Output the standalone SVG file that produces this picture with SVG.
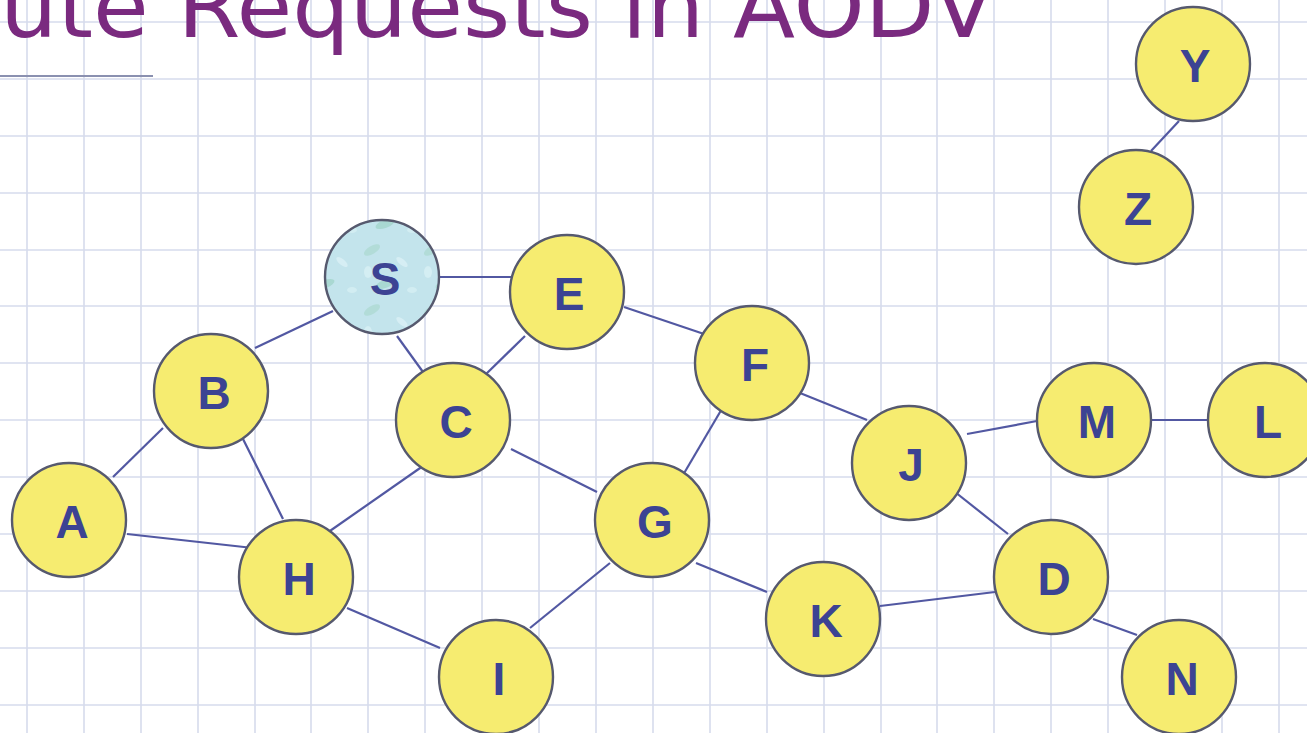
<svg xmlns="http://www.w3.org/2000/svg" width="1307" height="733" viewBox="0 0 1307 733">
<defs>
<style>
.grid line{stroke:#d6dbec;stroke-width:1.6}
.edge{stroke:#5258a2;stroke-width:2.2;fill:none}
.node circle{fill:#f6ec70;stroke:#56596e;stroke-width:2.4}
.node text{font-family:"Liberation Sans",Arial,sans-serif;font-weight:bold;font-size:46px;fill:#3c4393;text-anchor:middle;dominant-baseline:central}
.title{font-family:"DejaVu Sans",Verdana,sans-serif;font-size:88px;fill:#7a2a7f}
</style>
<pattern id="tex" patternUnits="userSpaceOnUse" width="60" height="60">
<rect width="60" height="60" fill="#c3e4ec"/>
<ellipse cx="12" cy="10" rx="9" ry="4" fill="#b2dcd8" transform="rotate(-30 12 10)"/>
<ellipse cx="42" cy="22" rx="7" ry="3" fill="#d6eef4" transform="rotate(40 42 22)"/>
<ellipse cx="25" cy="44" rx="10" ry="4" fill="#a9d8d2" transform="rotate(-20 25 44)"/>
<ellipse cx="52" cy="50" rx="5" ry="3" fill="#d2edf2"/>
<ellipse cx="8" cy="32" rx="4" ry="6" fill="#d4eef3"/>
</pattern>
</defs>
<rect width="1307" height="733" fill="#ffffff"/>
<g class="grid">
<line x1="27" y1="0" x2="27" y2="733"/><line x1="84" y1="0" x2="84" y2="733"/><line x1="141" y1="0" x2="141" y2="733"/><line x1="198" y1="0" x2="198" y2="733"/><line x1="255" y1="0" x2="255" y2="733"/><line x1="311" y1="0" x2="311" y2="733"/><line x1="368" y1="0" x2="368" y2="733"/><line x1="425" y1="0" x2="425" y2="733"/><line x1="482" y1="0" x2="482" y2="733"/><line x1="539" y1="0" x2="539" y2="733"/><line x1="596" y1="0" x2="596" y2="733"/><line x1="653" y1="0" x2="653" y2="733"/><line x1="710" y1="0" x2="710" y2="733"/><line x1="767" y1="0" x2="767" y2="733"/><line x1="824" y1="0" x2="824" y2="733"/><line x1="881" y1="0" x2="881" y2="733"/><line x1="937" y1="0" x2="937" y2="733"/><line x1="994" y1="0" x2="994" y2="733"/><line x1="1051" y1="0" x2="1051" y2="733"/><line x1="1108" y1="0" x2="1108" y2="733"/><line x1="1165" y1="0" x2="1165" y2="733"/><line x1="1222" y1="0" x2="1222" y2="733"/><line x1="1279" y1="0" x2="1279" y2="733"/>
<line x1="0" y1="22" x2="1307" y2="22"/><line x1="0" y1="79" x2="1307" y2="79"/><line x1="0" y1="136" x2="1307" y2="136"/><line x1="0" y1="193" x2="1307" y2="193"/><line x1="0" y1="250" x2="1307" y2="250"/><line x1="0" y1="306" x2="1307" y2="306"/><line x1="0" y1="363" x2="1307" y2="363"/><line x1="0" y1="420" x2="1307" y2="420"/><line x1="0" y1="477" x2="1307" y2="477"/><line x1="0" y1="534" x2="1307" y2="534"/><line x1="0" y1="591" x2="1307" y2="591"/><line x1="0" y1="648" x2="1307" y2="648"/><line x1="0" y1="705" x2="1307" y2="705"/>
</g>
<text class="title" x="0" y="37" textLength="995" lengthAdjust="spacingAndGlyphs">ute Requests in AODV</text>
<line x1="0" y1="76" x2="153" y2="76" stroke="#8a90b0" stroke-width="2"/>
<g id="connectors">
<line class="edge" x1="440" y1="277" x2="513" y2="277"/>
<line class="edge" x1="333" y1="311" x2="255" y2="348"/>
<line class="edge" x1="397" y1="336" x2="423" y2="372"/>
<line class="edge" x1="525" y1="336" x2="483" y2="377"/>
<line class="edge" x1="624" y1="307" x2="707" y2="335"/>
<line class="edge" x1="800" y1="393" x2="867" y2="420"/>
<line class="edge" x1="723" y1="407" x2="683" y2="475"/>
<line class="edge" x1="511" y1="449" x2="597" y2="492"/>
<line class="edge" x1="423" y1="466" x2="327" y2="533"/>
<line class="edge" x1="163" y1="428" x2="113" y2="477"/>
<line class="edge" x1="242" y1="437" x2="283" y2="519"/>
<line class="edge" x1="127" y1="534" x2="253" y2="548"/>
<line class="edge" x1="347" y1="608" x2="440" y2="648"/>
<line class="edge" x1="610" y1="563" x2="530" y2="628"/>
<line class="edge" x1="696" y1="563" x2="767" y2="592"/>
<line class="edge" x1="880" y1="606" x2="995" y2="592"/>
<line class="edge" x1="955" y1="492" x2="1008" y2="534"/>
<line class="edge" x1="967" y1="434" x2="1037" y2="421"/>
<line class="edge" x1="1151" y1="420" x2="1208" y2="420"/>
<line class="edge" x1="1093" y1="619" x2="1137" y2="635"/>
<line class="edge" x1="1179" y1="121" x2="1151" y2="151"/>
</g>
<g id="node-Y" class="node"><circle cx="1193" cy="64" r="57"/><text x="1195" y="66">Y</text></g>
<g id="node-Z" class="node"><circle cx="1136" cy="207" r="57"/><text x="1138" y="209">Z</text></g>
<g id="node-S" class="node"><circle cx="382" cy="277" r="57" style="fill:url(#tex)"/><text x="385" y="279">S</text></g>
<g id="node-E" class="node"><circle cx="567" cy="292" r="57"/><text x="569" y="294">E</text></g>
<g id="node-F" class="node"><circle cx="752" cy="363" r="57"/><text x="755" y="365">F</text></g>
<g id="node-B" class="node"><circle cx="211" cy="391" r="57"/><text x="214" y="393">B</text></g>
<g id="node-C" class="node"><circle cx="453" cy="420" r="57"/><text x="456" y="422">C</text></g>
<g id="node-A" class="node"><circle cx="69" cy="520" r="57"/><text x="72" y="522">A</text></g>
<g id="node-H" class="node"><circle cx="296" cy="577" r="57"/><text x="299" y="579">H</text></g>
<g id="node-G" class="node"><circle cx="652" cy="520" r="57"/><text x="655" y="522">G</text></g>
<g id="node-I" class="node"><circle cx="496" cy="677" r="57"/><text x="499" y="679">I</text></g>
<g id="node-K" class="node"><circle cx="823" cy="619" r="57"/><text x="826" y="621">K</text></g>
<g id="node-J" class="node"><circle cx="909" cy="463" r="57"/><text x="911" y="465">J</text></g>
<g id="node-M" class="node"><circle cx="1094" cy="420" r="57"/><text x="1097" y="422">M</text></g>
<g id="node-L" class="node"><circle cx="1265" cy="420" r="57"/><text x="1268" y="422">L</text></g>
<g id="node-D" class="node"><circle cx="1051" cy="577" r="57"/><text x="1054" y="579">D</text></g>
<g id="node-N" class="node"><circle cx="1179" cy="677" r="57"/><text x="1182" y="679">N</text></g>
</svg>
